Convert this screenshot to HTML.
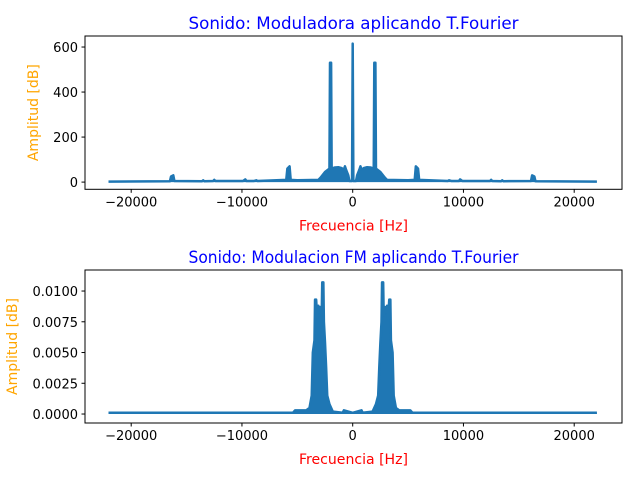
<!DOCTYPE html>
<html><head><meta charset="utf-8"><style>
body{margin:0;background:#fff}
svg text{font-family:"DejaVu Sans","Liberation Sans",sans-serif}
</style></head><body>
<svg id="fig" width="640" height="480" xmlns="http://www.w3.org/2000/svg">
<rect width="640" height="480" fill="#fff"/>
</svg>
<script>
// ---- data: top spectrum (Moduladora) ----
const topFreq = [-22050,-16500,-16400,-16200,-16100,-13600,-13500,-13400,-12600,-12500,-12400,-9900,-9700,-9600,-8900,-8700,-8600,-6000,-5900,-5700,-5600,-5000,-3100,-2900,-2500,-2100,-2050,-1950,-1900,-1600,-1300,-1000,-800,-700,-600,-400,-300,-60,0,60,300,400,600,700,800,1000,1300,1600,1900,1950,2050,2100,2500,2900,3100,5000,5600,5700,5900,6000,8600,8700,8900,9600,9700,9900,12400,12500,12600,13400,13500,13600,16100,16200,16400,16500,22050];
const topAmp  = [2,4,25,30,5,4,8,4,5,10,5,5,12,5,5,8,5,10,60,70,10,8,10,20,45,60,530,530,60,65,66,62,55,70,55,30,5,5,615,5,5,30,55,70,55,62,66,65,60,530,530,60,45,20,10,8,10,70,60,10,5,8,5,5,12,5,5,10,5,4,8,4,5,30,25,4,2];
const topTicksY = [0,200,400,600];
// ---- data: bottom spectrum (Modulacion FM) ----
const botFreq = [-22050,-5400,-5200,-4200,-3900,-3700,-3600,-3450,-3400,-3300,-3200,-3100,-3000,-2900,-2800,-2750,-2650,-2600,-2500,-2400,-2300,-2100,-1800,-900,-800,0,800,900,1800,2100,2300,2400,2500,2600,2650,2750,2800,2900,3000,3100,3200,3300,3400,3450,3600,3700,3900,4200,5200,5400,22050];
const botAmp  = [0.0001,0.0001,0.0003,0.0003,0.0005,0.0015,0.005,0.006,0.0093,0.0093,0.0078,0.0088,0.0083,0.0087,0.008,0.0107,0.0107,0.0075,0.0058,0.0038,0.0015,0.0008,0.0002,0.0001,0.0003,0.0001,0.0003,0.0001,0.0002,0.0008,0.0015,0.0038,0.0058,0.0075,0.0107,0.0107,0.008,0.0087,0.0083,0.0088,0.0078,0.0093,0.0093,0.006,0.005,0.0015,0.0005,0.0003,0.0003,0.0001,0.0001];
const botTicksY = [0,0.0025,0.005,0.0075,0.01];
const botTickLabels = ["0.0000","0.0025","0.0050","0.0075","0.0100"];
const xTicks = [-20000,-10000,0,10000,20000];

const NS="http://www.w3.org/2000/svg";
const svg=document.getElementById('fig');
function mk(tag,attrs,parent){const e=document.createElementNS(NS,tag);for(const k in attrs)e.setAttribute(k,attrs[k]);(parent||svg).appendChild(e);return e;}
const L=85,R=622;
const xs=f=>352.7+f*0.011075;

function panel(name,top,bot,ymin,ymax,freq,amp,yt,ylab,title,ylx){
  const g=mk('g',{});
  
  
  const ys=v=>bot-(v-ymin)/(ymax-ymin)*(bot-top);
  let d='';
  freq.forEach((f,i)=>{d+=(i?'L':'M')+xs(f).toFixed(2)+','+ys(amp[i]).toFixed(2);});
  const fill=mk('path',{d:d+'L'+xs(freq[freq.length-1])+','+ys(0)+'L'+xs(freq[0])+','+ys(0)+'Z',fill:'#1f77b4',stroke:'none'},g);
  
  
  const line=mk('path',{d:d,fill:'none',stroke:'#1f77b4','stroke-width':2.5,'stroke-linejoin':'round'},g);
  
  
  const fr=mk('rect',{x:L,y:top,width:R-L,height:bot-top,fill:'none',stroke:'#000','stroke-width':1},g);
  
  
  xTicks.forEach(t=>{
    const x=xs(t);
    mk('line',{x1:x,x2:x,y1:bot,y2:bot+3.5,stroke:'#000'},g);
    const tx=mk('text',{x:x,y:bot+17,'font-size':13,'text-anchor':'middle',fill:'#000'},g);
    tx.textContent=t<0?'\u2212'+(-t):String(t);
    
    
  });
  yt.forEach((t,i)=>{
    const y=ys(t);
    mk('line',{x1:L-3.5,x2:L,y1:y,y2:y,stroke:'#000'},g);
    const tx=mk('text',{x:L-7,y:y+5,'font-size':13,'text-anchor':'end',fill:'#000'},g);
    tx.textContent=ylab?ylab[i]:String(t);
    
    
  });
  const tt=mk('text',{x:(L+R)/2,y:top-7,'font-size':17,'text-anchor':'middle',fill:'#0000ff',textLength:330,lengthAdjust:'spacingAndGlyphs'},g);
  tt.textContent=title;
  
  
  const xl=mk('text',{x:(L+R)/2,y:bot+41,'font-size':14,'text-anchor':'middle',fill:'#ff0000',textLength:109,lengthAdjust:'spacingAndGlyphs'},g);
  xl.textContent='Frecuencia [Hz]';
  
  
  const cy=(top+bot)/2;
  const yl=mk('text',{x:ylx,y:cy,'font-size':14,'text-anchor':'middle',fill:'#ffa500',transform:'rotate(-90 '+ylx+' '+cy+')'},g);
  yl.textContent='Amplitud [dB]';
  
  
}
panel('top-chart',36,189.3,-32,649,topFreq,topAmp,topTicksY,null,'Sonido: Moduladora aplicando T.Fourier',38);
panel('bottom-chart',270,423,-0.00073,0.01171,botFreq,botAmp,botTicksY,botTickLabels,'Sonido: Modulacion FM aplicando T.Fourier',17);
</script>
</body></html>
